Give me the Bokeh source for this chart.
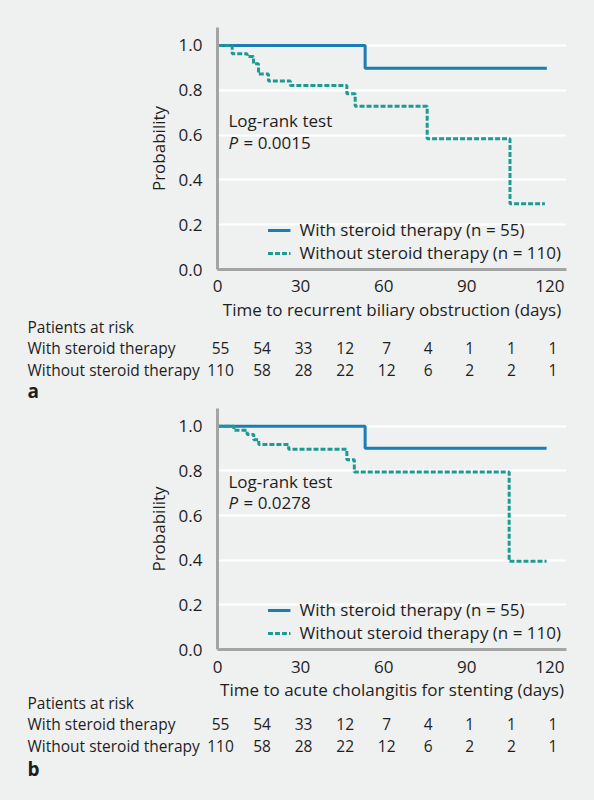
from bokeh.plotting import figure
from bokeh.models import Range1d, FixedTicker, NumeralTickFormatter, Label
from bokeh.core.properties import value
from bokeh.layouts import column
from bokeh.embed import file_html
from bokeh.resources import INLINE

# ---------------- data ----------------
x_ticks = [0, 30, 60, 90, 120]
y_ticks = [0.0, 0.2, 0.4, 0.6, 0.8, 1.0]

risk_days = [0, 15, 30, 45, 60, 75, 90, 105, 120]
risk_with = [55, 54, 33, 12, 7, 4, 1, 1, 1]
risk_without = [110, 58, 28, 22, 12, 6, 2, 2, 1]

# panel a: time to recurrent biliary obstruction
a_with_t = [0, 53.3, 118.9]
a_with_s = [1.0, 0.898, 0.898]
a_without_t = [0, 5.3, 10.7, 13.0, 14.8, 18.4, 26.3, 46.7, 49.7, 75.7, 105.6, 118.2]
a_without_s = [1.0, 0.963, 0.951, 0.918, 0.872, 0.841, 0.821, 0.784, 0.728, 0.583, 0.293, 0.293]

# panel b: time to acute cholangitis
b_with_t = [0, 53.3, 118.8]
b_with_s = [1.0, 0.902, 0.902]
b_without_t = [0, 5.9, 10.7, 13.1, 14.9, 25.7, 46.7, 49.4, 105.3, 118.8]
b_without_s = [1.0, 0.982, 0.964, 0.940, 0.919, 0.897, 0.850, 0.795, 0.395, 0.395]

series_labels = ["With steroid therapy (n = 55)", "Without steroid therapy (n = 110)"]
row_labels = ["Patients at risk", "With steroid therapy", "Without steroid therapy"]

# ---------------- style ----------------
BG = "#eff0f0"
BLUE = "#1a7db6"
TEAL = "#1f9a93"
AXIS = "#a3a5a5"
TXT = "#1e1e1e"
FONT = "Open Sans"
FS = "17px"
FS_TABLE = "15.5px"

W = 586
LEFT = 217          # frame left (px)
RIGHT_BORDER = 20   # frame right at W - 20 = 566
X_MAX = 126
FRAME_W = W - RIGHT_BORDER - LEFT
PX_PER_DAY = FRAME_W / X_MAX


def chart(with_t, with_s, without_t, without_s, p_text, height, top, bottom,
          tick_standoff, lr_offsets):
    p = figure(width=W, height=height, output_backend="svg", toolbar_location=None,
               x_range=Range1d(0, X_MAX), y_range=Range1d(0, 1.08),
               min_border_left=LEFT, min_border_right=RIGHT_BORDER,
               min_border_top=top, min_border_bottom=bottom)
    p.background_fill_color = BG
    p.border_fill_color = BG
    p.outline_line_color = None
    p.xgrid.visible = False
    p.ygrid.grid_line_color = "white"
    p.ygrid.grid_line_width = 2

    p.xaxis.ticker = FixedTicker(ticks=x_ticks)
    p.yaxis.ticker = FixedTicker(ticks=y_ticks)
    p.yaxis.formatter = NumeralTickFormatter(format="0.0")
    for ax in (p.xaxis[0], p.yaxis[0]):
        ax.axis_line_color = AXIS
        ax.axis_line_width = 3
        ax.major_tick_line_color = None
        ax.minor_tick_line_color = None
        ax.major_label_text_font = FONT
        ax.major_label_text_font_size = FS
        ax.major_label_text_color = TXT
        ax.axis_label_text_font = FONT
        ax.axis_label_text_font_size = FS
        ax.axis_label_text_font_style = "normal"
        ax.axis_label_text_color = TXT
    p.yaxis.axis_label = "Probability"
    p.yaxis.major_label_standoff = 9
    p.yaxis.axis_label_standoff = 6
    p.xaxis.major_label_standoff = tick_standoff

    p.step(with_t, with_s, mode="after", line_color=BLUE, line_width=3,
           legend_label=series_labels[0])
    p.step(without_t, without_s, mode="after", line_color=TEAL, line_width=3,
           line_dash="5 2", legend_label=series_labels[1])

    lg = p.legend[0]
    lg.location = "bottom_right"
    lg.background_fill_alpha = 0
    lg.border_line_alpha = 0
    lg.label_text_font = FONT
    lg.label_text_font_size = FS
    lg.label_text_color = TXT
    lg.glyph_width = 23
    lg.glyph_height = 20
    lg.label_height = 20
    lg.label_standoff = 9
    lg.spacing = -2
    lg.padding = 0
    lg.margin = 5

    lr1, lr2 = lr_offsets
    p.add_layout(Label(x=0, y=1.0, x_offset=11, y_offset=lr1, text="Log-rank test",
                       text_font=FONT, text_font_size=FS, text_color=TXT,
                       text_baseline="middle", text_align="left"))
    p.add_layout(Label(x=0, y=1.0, x_offset=11, y_offset=lr2, text="P",
                       text_font=FONT, text_font_size=FS, text_color=TXT,
                       text_font_style="italic",
                       text_baseline="middle", text_align="left"))
    p.add_layout(Label(x=0, y=1.0, x_offset=26, y_offset=lr2, text="= " + p_text,
                       text_font=FONT, text_font_size=FS, text_color=TXT,
                       text_baseline="middle", text_align="left"))
    return p


def table(letter, x_label, height, rows_y):
    # rows_y: vertical positions (px from top) of axis title, 3 table rows, panel letter
    p = figure(width=W, height=height, output_backend="svg", toolbar_location=None,
               x_range=Range1d(-LEFT / PX_PER_DAY, X_MAX), y_range=Range1d(height, 0),
               x_axis_type=None, y_axis_type=None,
               min_border_left=0, min_border_right=RIGHT_BORDER,
               min_border_top=0, min_border_bottom=0)
    p.frame_align = False
    p.background_fill_color = BG
    p.border_fill_color = BG
    p.outline_line_color = None
    p.grid.visible = False
    common = dict(text_font=value(FONT), text_font_size=value(FS_TABLE), text_color=TXT,
                  text_baseline="middle")
    y_lab, y_pat, y_with, y_without, y_letter = rows_y
    # x-axis title of the chart above
    p.text(x=[X_MAX / 2], y=[y_lab], text=[x_label], text_align="center",
           text_font=value(FONT), text_font_size=value(FS), text_color=TXT,
           text_baseline="middle")
    left_x = -(LEFT - 27) / PX_PER_DAY
    p.text(x=[left_x] * 3, y=[y_pat, y_with, y_without], text=row_labels,
           text_align="left", **common)
    p.text(x=risk_days, y=[y_with] * len(risk_days), text=[str(n) for n in risk_with],
           text_align="center", x_offset=3, **common)
    p.text(x=risk_days, y=[y_without] * len(risk_days), text=[str(n) for n in risk_without],
           text_align="center", x_offset=3, **common)
    p.text(x=[left_x], y=[y_letter], text=[letter], text_align="left",
           text_font=value(FONT), text_font_size=value("19px"), text_font_style="bold",
           text_color=TXT, text_baseline="middle")
    return p


pa = chart(a_with_t, a_with_s, a_without_t, a_without_s, "0.0015",
           height=296, top=27, bottom=27, tick_standoff=4, lr_offsets=(-75, -97))
ta = table("a", "Time to recurrent biliary obstruction (days)", 110, (13, 30.5, 51.5, 73.5, 94.5))
pb = chart(b_with_t, b_with_s, b_without_t, b_without_s, "0.0278",
           height=270, top=2, bottom=27, tick_standoff=5, lr_offsets=(-55, -76))
tb = table("b", "Time to acute cholangitis for stenting (days)", 114, (13, 26, 47.5, 69, 92.5))

layout = column(pa, ta, pb, tb, spacing=0)
html = file_html(layout, INLINE)
html = html.replace("<head>", "<head><style>body{background:%s;}</style>" % BG, 1)
open("out.html", "w").write(html)
